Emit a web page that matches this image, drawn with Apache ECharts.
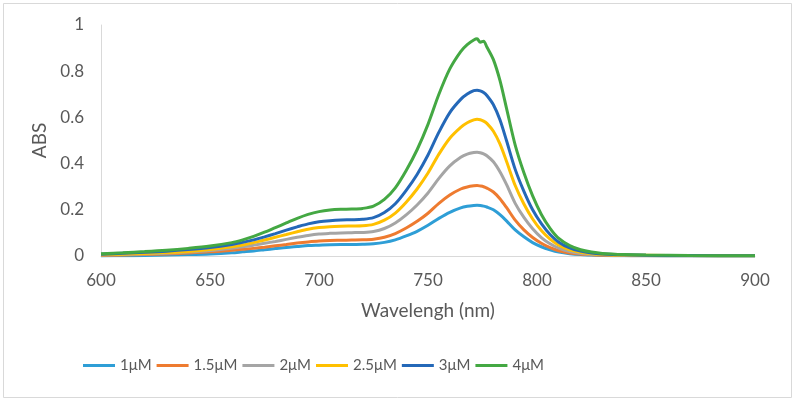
<!DOCTYPE html>
<html>
<head>
<meta charset="utf-8">
<script src="https://cdn.jsdelivr.net/npm/echarts@6/dist/echarts.min.js"></script>
<style>
  html, body { margin: 0; padding: 0; background: #fff; }
  #chart { width: 795px; height: 401px; }
</style>
</head>
<body>
<div id="chart"></div>
<script>
// wavelengths (nm), shared x values for every curve
const wavelengths = [600, 610, 620, 630, 640, 650, 660, 665, 670, 675, 680, 685, 690, 695, 700, 705, 710, 715, 720, 725,
  730, 735, 740, 745, 750, 755, 760, 765, 768, 771, 772.5, 774, 775.5, 777, 780, 783, 786, 790, 794, 798,
  802, 806, 810, 815, 820, 825, 830, 840, 850, 870, 900]

const seriesNames = ['1μM', '1.5μM', '2μM', '2.5μM', '3μM', '4μM']
const seriesColors = ['#2e9ed6', '#ee7b30', '#a5a5a5', '#ffc000', '#2468b8', '#44a843']

// absorbance
const abs1 = [0.000, 0.001, 0.002, 0.004, 0.006, 0.009, 0.014, 0.018, 0.022, 0.027, 0.032, 0.037, 0.041, 0.045, 0.047, 0.049, 0.050, 0.050, 0.051, 0.053,
  0.059, 0.070, 0.087, 0.107, 0.133, 0.163, 0.189, 0.208, 0.215, 0.219, 0.220, 0.219, 0.216, 0.212, 0.200, 0.179, 0.152, 0.113, 0.083, 0.058,
  0.040, 0.027, 0.017, 0.010, 0.006, 0.004, 0.002, 0.001, 0.001, 0.000, 0.000]
const abs15 = [0.002, 0.004, 0.006, 0.009, 0.013, 0.018, 0.025, 0.029, 0.033, 0.038, 0.044, 0.050, 0.056, 0.061, 0.065, 0.067, 0.068, 0.069, 0.070, 0.073,
  0.081, 0.097, 0.121, 0.150, 0.185, 0.228, 0.264, 0.290, 0.299, 0.304, 0.305, 0.303, 0.300, 0.294, 0.277, 0.248, 0.210, 0.155, 0.113, 0.080,
  0.055, 0.036, 0.023, 0.013, 0.008, 0.005, 0.003, 0.002, 0.001, 0.001, 0.001]
const abs2 = [0.004, 0.006, 0.009, 0.012, 0.017, 0.024, 0.034, 0.040, 0.047, 0.055, 0.063, 0.072, 0.081, 0.089, 0.095, 0.098, 0.100, 0.101, 0.102, 0.106,
  0.119, 0.143, 0.178, 0.221, 0.273, 0.336, 0.390, 0.427, 0.441, 0.448, 0.449, 0.447, 0.442, 0.434, 0.408, 0.365, 0.310, 0.228, 0.167, 0.118,
  0.080, 0.053, 0.034, 0.019, 0.011, 0.007, 0.005, 0.003, 0.002, 0.001, 0.001]
const abs25 = [0.005, 0.008, 0.011, 0.015, 0.020, 0.028, 0.040, 0.048, 0.058, 0.069, 0.081, 0.093, 0.105, 0.116, 0.123, 0.127, 0.129, 0.130, 0.131, 0.137,
  0.155, 0.186, 0.233, 0.290, 0.359, 0.441, 0.510, 0.557, 0.577, 0.589, 0.592, 0.590, 0.584, 0.574, 0.540, 0.485, 0.410, 0.305, 0.225, 0.160,
  0.110, 0.073, 0.047, 0.027, 0.016, 0.010, 0.007, 0.004, 0.003, 0.002, 0.001]
const abs3 = [0.008, 0.012, 0.016, 0.021, 0.028, 0.037, 0.050, 0.059, 0.070, 0.083, 0.097, 0.112, 0.126, 0.139, 0.148, 0.153, 0.156, 0.157, 0.159, 0.166,
  0.188, 0.226, 0.284, 0.353, 0.437, 0.536, 0.621, 0.678, 0.701, 0.716, 0.718, 0.715, 0.708, 0.695, 0.655, 0.590, 0.500, 0.375, 0.280, 0.200,
  0.140, 0.093, 0.060, 0.035, 0.021, 0.013, 0.009, 0.005, 0.003, 0.002, 0.001]
const abs4 = [0.010, 0.014, 0.019, 0.025, 0.033, 0.043, 0.058, 0.070, 0.085, 0.103, 0.123, 0.143, 0.163, 0.180, 0.192, 0.199, 0.202, 0.203, 0.206, 0.216,
  0.245, 0.295, 0.370, 0.460, 0.570, 0.700, 0.810, 0.885, 0.915, 0.935, 0.940, 0.925, 0.930, 0.905, 0.850, 0.760, 0.640, 0.480, 0.360, 0.260,
  0.180, 0.120, 0.076, 0.045, 0.027, 0.017, 0.011, 0.006, 0.004, 0.002, 0.001]

const allAbs = [abs1, abs15, abs2, abs25, abs3, abs4]

const font = 'Lato, "Liberation Sans", sans-serif'
const chart = echarts.init(document.getElementById('chart'))

chart.setOption({
  backgroundColor: '#fff',
  animation: false,
  color: seriesColors,
  graphic: [{
    type: 'rect',
    shape: { x: 3.5, y: 3.5, width: 788, height: 394 },
    style: { fill: 'none', stroke: '#d9d9d9', lineWidth: 1 }
  }],
  grid: { left: 101, right: 40, top: 25, bottom: 145 },
  legend: {
    left: 78,
    top: 353,
    icon: 'rect',
    itemWidth: 32,
    itemHeight: 3,
    itemGap: 5,
    textStyle: { color: '#595959', fontSize: 15, fontFamily: font },
    data: seriesNames
  },
  xAxis: {
    type: 'value',
    min: 600,
    max: 900,
    interval: 50,
    name: 'Wavelengh (nm)',
    nameLocation: 'middle',
    nameGap: 45,
    nameTextStyle: { color: '#595959', fontSize: 19, fontFamily: font },
    axisLine: { lineStyle: { color: '#d9d9d9' } },
    axisTick: { show: false },
    axisLabel: { color: '#595959', fontSize: 17, fontFamily: font, margin: 16 },
    splitLine: { show: false }
  },
  yAxis: {
    type: 'value',
    min: 0,
    max: 1,
    interval: 0.2,
    name: 'ABS',
    nameLocation: 'middle',
    nameGap: 49,
    nameTextStyle: { color: '#595959', fontSize: 19, fontFamily: font },
    axisLine: { show: true, lineStyle: { color: '#d9d9d9' } },
    axisTick: { show: false },
    axisLabel: { color: '#595959', fontSize: 17, fontFamily: font, margin: 17 },
    splitLine: { show: false }
  },
  series: seriesNames.map((name, i) => ({
    name: name,
    type: 'line',
    smooth: 0.3,
    symbol: 'none',
    lineStyle: { width: 3, color: seriesColors[i] },
    data: wavelengths.map((w, j) => [w, allAbs[i][j]])
  }))
})
</script>
</body>
</html>
